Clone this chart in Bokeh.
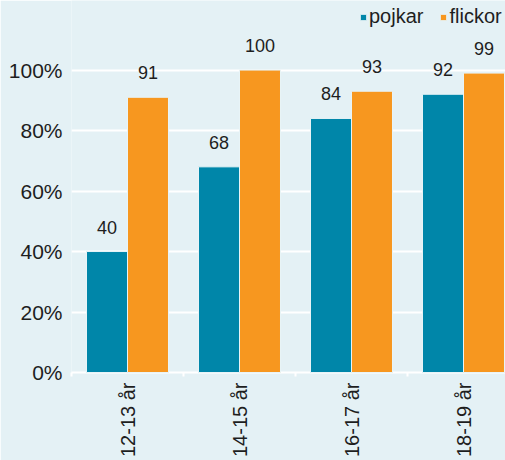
from bokeh.plotting import figure
from bokeh.models import Range1d, FixedTicker, ColumnDataSource, Legend, LegendItem, LabelSet
from bokeh.embed import file_html
from bokeh.resources import INLINE
from bokeh.core.properties import value
import math

categories = ["12-13 år", "14-15 år", "16-17 år", "18-19 år"]
pojkar = [40, 68, 84, 92]
flickor = [91, 100, 93, 99]
y_ticks = [0, 20, 40, 60, 80, 100]

BG = "#e4f1f5"
TEAL = "#0086a9"
ORANGE = "#f7971f"
TXT = "#1e1e1e"
FONT = "Liberation Sans"

idx = list(range(len(categories)))
off = 0.183
bw = 0.366
src_p = ColumnDataSource(dict(x=[i + 0.5 - off for i in idx], top=pojkar, lab=[str(v) for v in pojkar]))
src_f = ColumnDataSource(dict(x=[i + 0.5 + off for i in idx], top=flickor, lab=[str(v) for v in flickor]))

p = figure(width=505, height=460, output_backend="svg", toolbar_location=None,
           x_range=Range1d(0, 3.875), y_range=Range1d(0, 123),
           min_border_left=71, min_border_right=0, min_border_top=0, min_border_bottom=88)
p.background_fill_color = BG
p.border_fill_color = BG
p.outline_line_color = None

rp = p.vbar(x="x", top="top", width=bw, source=src_p, fill_color=TEAL, line_color="#e8f4f7", line_width=1)
rf = p.vbar(x="x", top="top", width=bw, source=src_f, fill_color=ORANGE, line_color="#e8f4f7", line_width=1)
rp.level = "overlay"
rf.level = "overlay"

for s in (src_p, src_f):
    p.add_layout(LabelSet(x="x", y="top", text="lab", source=s, text_align="center",
                          text_baseline="alphabetic", y_offset=18, text_font=value(FONT),
                          text_font_size="18px", text_color=TXT))

# y axis
p.yaxis.ticker = FixedTicker(ticks=y_ticks)
p.yaxis.major_label_overrides = {v: f"{v}%" for v in y_ticks}
p.yaxis.axis_line_color = None
p.yaxis.major_tick_line_color = None
p.yaxis.minor_tick_line_color = None
p.yaxis.major_tick_out = 0
p.yaxis.major_tick_in = 0
p.yaxis.major_label_standoff = 9
p.yaxis.major_label_text_font = FONT
p.yaxis.major_label_text_font_size = "21px"
p.yaxis.major_label_text_color = TXT

p.ygrid.ticker = FixedTicker(ticks=y_ticks[1:])
p.ygrid.grid_line_color = "white"
p.ygrid.grid_line_width = 2
p.xgrid.grid_line_color = None

# x axis
centers = [i + 0.5 for i in idx]
p.xaxis.ticker = FixedTicker(ticks=centers, minor_ticks=idx)
p.xaxis.major_label_overrides = {c: cat for c, cat in zip(centers, categories)}
p.xaxis.major_label_orientation = math.pi / 2
p.xaxis.axis_line_color = "white"
p.xaxis.axis_line_width = 2
p.xaxis.major_tick_line_color = None
p.xaxis.major_tick_out = 0
p.xaxis.major_tick_in = 0
p.xaxis.minor_tick_line_color = "white"
p.xaxis.minor_tick_line_width = 2
p.xaxis.minor_tick_out = 4
p.xaxis.minor_tick_in = 0
p.xaxis.major_label_standoff = 6
p.xaxis.major_label_text_font = FONT
p.xaxis.major_label_text_font_size = "20px"
p.xaxis.major_label_text_color = TXT

legend = Legend(items=[LegendItem(label="pojkar", renderers=[rp]), LegendItem(label="flickor", renderers=[rf])],
                location=(288, 344), orientation="horizontal",
                background_fill_alpha=0, border_line_color=None,
                glyph_width=8, glyph_height=8, label_standoff=2, spacing=16,
                padding=0, margin=0, label_text_font=FONT, label_text_font_size="20px",
                label_text_color=TXT, label_height=20)
p.add_layout(legend)

html = file_html(p, INLINE)
open("out.html", "w").write(html)
